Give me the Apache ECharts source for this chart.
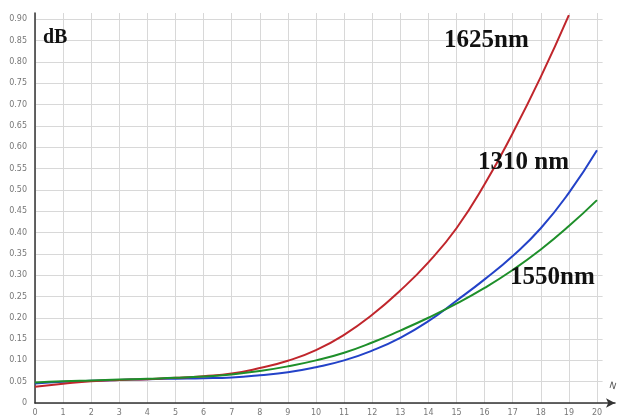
<!DOCTYPE html>
<html><head><meta charset="utf-8">
<script src="https://cdn.jsdelivr.net/npm/echarts@6/dist/echarts.min.js"></script>
<style>html,body{margin:0;padding:0;background:#fff}#c{width:617px;height:420px}</style>
</head><body><div id="c"></div>
<script>
var xs = [0,1,2,3,4,5,6,7,8,9,10,11,12,13,14,15,16,17,18,19,20];
var red1625 = [0.038,0.045,0.051,0.054,0.056,0.059,0.063,0.069,0.082,0.099,0.124,0.160,0.207,0.264,0.330,0.410,0.513,0.633,0.765,0.910];
var blue1310 = [0.046,0.050,0.052,0.054,0.056,0.057,0.058,0.060,0.065,0.072,0.084,0.100,0.123,0.153,0.192,0.240,0.290,0.345,0.410,0.493,0.593];
var green1550 = [0.048,0.051,0.053,0.055,0.057,0.059,0.062,0.067,0.075,0.086,0.100,0.118,0.142,0.170,0.200,0.233,0.270,0.312,0.360,0.415,0.476];
var labels = ['1625nm','1310 nm','1550nm'];

function pairs(v){ return v.map(function(y,i){ return [xs[i], y]; }); }
var chart = echarts.init(document.getElementById('c'), null, {renderer:'canvas'});
var lblStyle = {color:'#777', fontSize:8, fontFamily:'DejaVu Sans'};
chart.setOption({
  animation:false,
  backgroundColor:'#fff',
  grid:[{left:35, right:14.4, top:13, bottom:17},{left:35, right:2, top:13, bottom:17}],
  xAxis:[{
    type:'value', gridIndex:0, min:0, max:20.2, interval:1,
    axisLine:{show:false}, axisTick:{show:false},
    axisLabel:Object.assign({showMaxLabel:false, margin:6}, lblStyle),
    splitLine:{show:true, showMaxLine:false, lineStyle:{color:'#d8d8d8', width:1}}
  },{
    type:'value', gridIndex:1, min:0, max:1,
    axisLine:{show:true, lineStyle:{color:'#333', width:1.5}, symbol:['none','arrow'], symbolSize:[7,9]},
    axisTick:{show:false}, axisLabel:{show:false}, splitLine:{show:false}
  }],
  yAxis:[{
    type:'value', gridIndex:0, min:0, max:0.915, interval:0.05,
    axisLine:{show:true, lineStyle:{color:'#333', width:1.5}},
    axisTick:{show:false},
    axisLabel:Object.assign({showMaxLabel:false, margin:8, formatter:function(v){return v===0?'0':v.toFixed(2);}}, lblStyle),
    splitLine:{show:true, showMaxLine:false, lineStyle:{color:'#d8d8d8', width:1}}
  },{
    type:'value', gridIndex:1, show:false, min:0, max:1
  }],
  series:[
    {type:'line', name:labels[0], xAxisIndex:0, yAxisIndex:0, data:pairs(red1625), smooth:0.5, symbol:'none', lineStyle:{color:'#c0262c', width:2}, z:3},
    {type:'line', name:labels[1], xAxisIndex:0, yAxisIndex:0, data:pairs(blue1310), smooth:0.5, symbol:'none', lineStyle:{color:'#2342c8', width:2}, z:2},
    {type:'line', name:labels[2], xAxisIndex:0, yAxisIndex:0, data:pairs(green1550), smooth:0.5, symbol:'none', lineStyle:{color:'#1e8f2a', width:2}, z:4}
  ],
  graphic:[
    {type:'text', z:100, left:43, top:28, style:{text:'dB', font:'bold 20px "Liberation Serif"', fill:'#111'}},
    {type:'text', z:100, left:444, top:28, style:{text:labels[0], font:'bold 25px "Liberation Serif"', fill:'#111'}},
    {type:'text', z:100, left:478, top:150, style:{text:labels[1], font:'bold 25px "Liberation Serif"', fill:'#111'}},
    {type:'text', z:100, left:510, top:265, style:{text:labels[2], font:'bold 25px "Liberation Serif"', fill:'#111'}},
    {type:'text', z:100, left:608, top:381, rotation:-0.3, style:{text:'N', font:'9px "DejaVu Sans"', fill:'#555'}}
  ]
});
</script></body></html>
